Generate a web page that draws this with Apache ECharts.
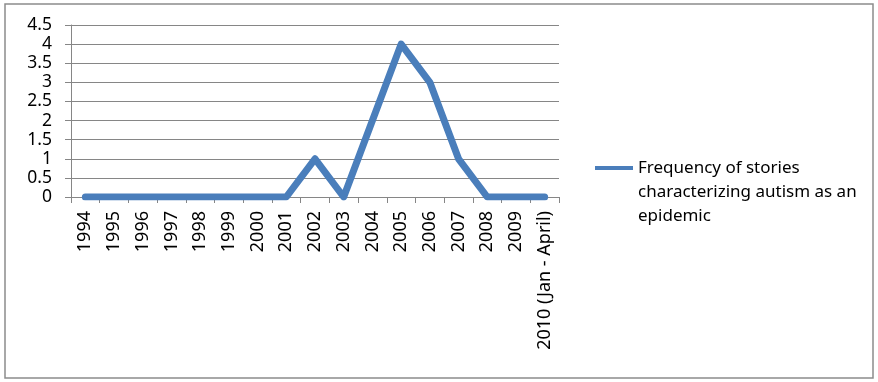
<!DOCTYPE html>
<html>
<head>
<meta charset="utf-8">
<script src="https://cdn.jsdelivr.net/npm/echarts@6/dist/echarts.min.js"></script>
<style>
  html, body { margin: 0; padding: 0; background: #fff; }
  #chart { width: 878px; height: 382px; }
</style>
</head>
<body>
<div id="chart"></div>
<script>
// Categorías (años) y valores de la serie
const years = ["1994", "1995", "1996", "1997", "1998", "1999", "2000", "2001",
  "2002", "2003", "2004", "2005", "2006", "2007", "2008", "2009", "2010 (Jan - April)"];
const storyCounts = [0, 0, 0, 0, 0, 0, 0, 0, 1, 0, 2, 4, 3, 1, 0, 0, 0];
const seriesName = "Frequency of stories\ncharacterizing autism as an\nepidemic";

const chart = echarts.init(document.getElementById("chart"));
const fontFamily = "'Noto Sans', 'Open Sans', sans-serif";

chart.setOption({
  animation: false,
  backgroundColor: "#ffffff",
  textStyle: { fontFamily: fontFamily },
  graphic: [{
    type: "rect",
    shape: { x: 5, y: 4, width: 868, height: 374 },
    style: { fill: "none", stroke: "#8c8c8c", lineWidth: 1.5 },
    silent: true
  }],
  grid: { left: 71, right: 319, top: 25, bottom: 185 },
  legend: {
    left: 590,
    top: 151,
    itemWidth: 38,
    itemHeight: 52,
    itemGap: 5,
    // línea arriba y un punto casi invisible abajo para alinear con la 1ª línea
    icon: "path://M0,0H38V4H0Z M0,52H0.01V52.01H0Z",
    textStyle: {
      fontFamily: fontFamily,
      fontSize: 17,
      color: "#000",
      lineHeight: 24
    },
    data: [seriesName]
  },
  xAxis: {
    type: "category",
    data: years,
    boundaryGap: true,
    axisLine: { lineStyle: { color: "#868686", width: 1 } },
    axisTick: { show: true, length: 6, alignWithLabel: false, lineStyle: { color: "#868686" } },
    axisLabel: { rotate: 90, interval: 0, margin: 14, fontSize: 18, color: "#000" },
    splitLine: { show: false }
  },
  yAxis: {
    type: "value",
    min: 0,
    max: 4.5,
    interval: 0.5,
    axisLine: { show: true, lineStyle: { color: "#868686", width: 1 } },
    axisTick: { show: true, length: 6, lineStyle: { color: "#868686" } },
    axisLabel: { fontSize: 17.5, color: "#000", margin: 19 },
    splitLine: { lineStyle: { color: "#868686", width: 1 } }
  },
  series: [{
    name: seriesName,
    type: "line",
    data: storyCounts,
    symbol: "none",
    lineStyle: { color: "#4a7ebb", width: 7, cap: "round", join: "round" },
    itemStyle: { color: "#4a7ebb" }
  }]
});
</script>
</body>
</html>
